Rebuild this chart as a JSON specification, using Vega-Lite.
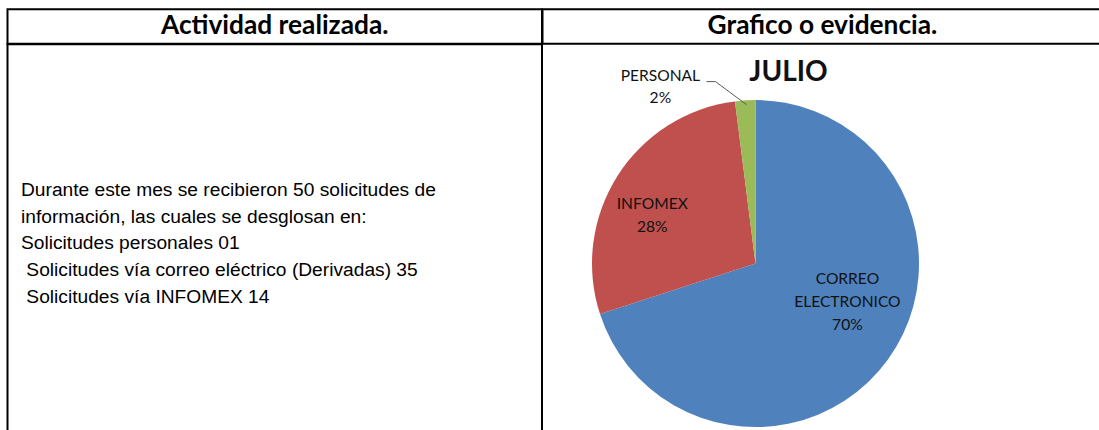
{
  "$schema": "https://vega.github.io/schema/vega-lite/v6.json",
  "background": "white",
  "padding": {"left": 6.5, "top": 8.3, "right": 0, "bottom": 0},
  "autosize": {"type": "pad"},
  "bounds": "flush",
  "spacing": 0,
  "columns": 2,
  "align": "each",
  "config": {
    "view": {"stroke": "black", "strokeWidth": 2},
    "concat": {"spacing": 0},
    "text": {"font": "Lato"}
  },
  "concat": [
    {
      "width": 534.5,
      "height": 34.4,
      "view": {"stroke": "black", "strokeWidth": 2},
      "data": {"values": [{"t": "Actividad realizada."}]},
      "mark": {"type": "text", "font": "Lato", "fontWeight": "bold", "fontSize": 26.3, "baseline": "middle", "color": "black"},
      "encoding": {"text": {"field": "t", "type": "nominal"}}
    },
    {
      "width": 560,
      "height": 34.4,
      "view": {"stroke": "black", "strokeWidth": 2},
      "data": {"values": [{"t": "Grafico o evidencia."}]},
      "mark": {"type": "text", "font": "Lato", "fontWeight": "bold", "fontSize": 26.3, "baseline": "middle", "color": "black"},
      "encoding": {"text": {"field": "t", "type": "nominal"}}
    },
    {
      "width": 534.5,
      "height": 401.6,
      "view": {"stroke": "black", "strokeWidth": 2},
      "data": {"values": [{"t": "Durante este mes se recibieron 50 solicitudes de\ninformación, las cuales se desglosan en:\nSolicitudes personales 01\n\u200b\u00a0Solicitudes vía correo eléctrico (Derivadas) 35\n\u200b\u00a0Solicitudes vía INFOMEX 14"}]},
      "mark": {"type": "text", "font": "Liberation Sans", "fontSize": 19.2, "align": "left", "baseline": "middle", "x": 13.5, "dy": -55, "lineBreak": "\n", "lineHeight": 26.7, "color": "black"},
      "encoding": {"text": {"field": "t", "type": "nominal"}}
    },
    {
      "width": 426,
      "height": 438.6,
      "view": {"stroke": null},
      "layer": [
        {
          "data": {"values": [
            {"cat": "CORREO ELECTRONICO", "value": 35, "label": "CORREO\nELECTRONICO\n70%"},
            {"cat": "INFOMEX", "value": 14, "label": "INFOMEX\n28%"},
            {"cat": "PERSONAL", "value": 1, "label": "PERSONAL\n2%"}
          ]},
          "encoding": {
            "theta": {"field": "value", "type": "quantitative", "stack": true},
            "order": {"field": "value", "type": "quantitative", "sort": "descending"}
          },
          "layer": [
            {
              "mark": {"type": "arc", "radius": 163.5},
              "encoding": {
                "color": {
                  "field": "cat", "type": "nominal", "legend": null,
                  "scale": {"domain": ["CORREO ELECTRONICO", "INFOMEX", "PERSONAL"], "range": ["#4F81BD", "#C0504D", "#9BBB59"]}
                }
              }
            },
            {
              "mark": {"type": "text", "radius": 100, "dx": 11, "dy": -43, "fontSize": 15.6, "lineBreak": "\n", "lineHeight": 22.8, "baseline": "middle", "color": "#111111"},
              "encoding": {
                "detail": {"field": "cat", "type": "nominal"},
                "text": {"condition": {"test": "datum.cat === 'CORREO ELECTRONICO'", "field": "label"}, "value": ""}
              }
            },
            {
              "mark": {"type": "text", "radius": 114, "dx": -7, "dy": 1, "fontSize": 15.6, "lineBreak": "\n", "lineHeight": 23.5, "baseline": "middle", "color": "#111111"},
              "encoding": {
                "detail": {"field": "cat", "type": "nominal"},
                "text": {"condition": {"test": "datum.cat === 'INFOMEX'", "field": "label"}, "value": ""}
              }
            },
            {
              "mark": {"type": "text", "radius": 177, "dx": -84, "dy": -11, "fontSize": 15.6, "lineBreak": "\n", "lineHeight": 22.5, "baseline": "middle", "color": "#111111"},
              "encoding": {
                "detail": {"field": "cat", "type": "nominal"},
                "text": {"condition": {"test": "datum.cat === 'PERSONAL'", "field": "label"}, "value": ""}
              }
            }
          ]
        },
        {
          "data": {"values": [{"cat": "PERSONAL"}]},
          "mark": {"type": "point", "shape": "M -0.49 -1.82 L -0.40 -1.82 L -0.09 -1.59", "size": 40000, "filled": false, "stroke": "#595959", "strokeWidth": 1, "opacity": 1},
          "encoding": {}
        },
        {
          "data": {"values": [{"t": "JULIO"}]},
          "mark": {"type": "text", "fontWeight": "bold", "fontSize": 28, "dx": 33, "dy": -191, "baseline": "middle", "color": "#111111"},
          "encoding": {"text": {"field": "t", "type": "nominal"}}
        }
      ]
    }
  ]
}
